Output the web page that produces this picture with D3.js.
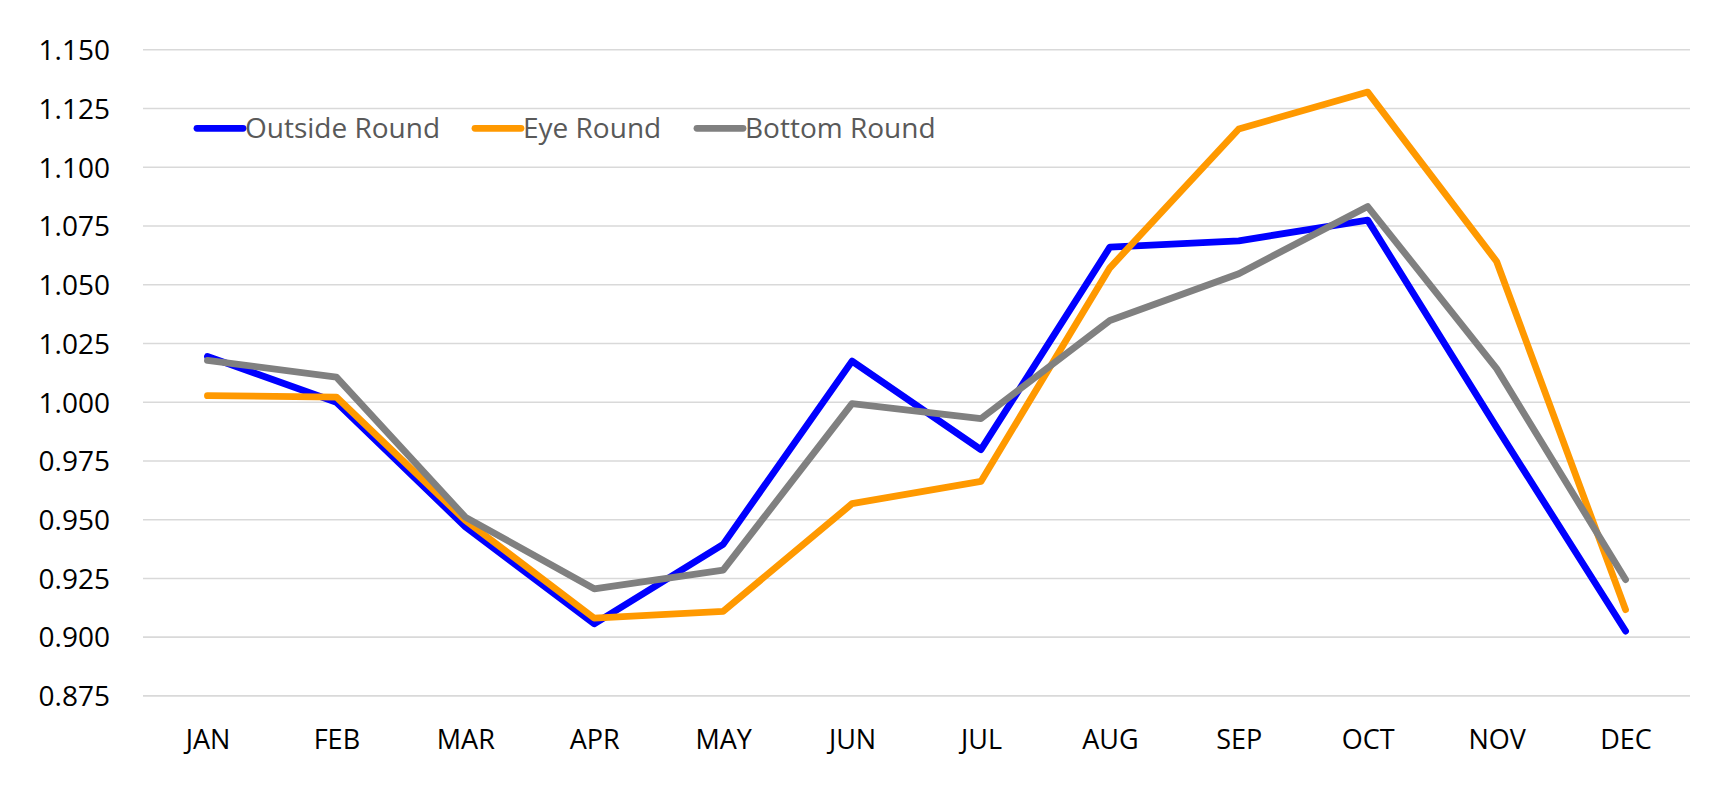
<!DOCTYPE html>
<html>
<head>
<meta charset="utf-8">
<script src="https://cdn.jsdelivr.net/npm/d3@7"></script>
<style>
  html, body { margin: 0; padding: 0; background: #fff; }
  svg { display: block; }
</style>
</head>
<body>
<svg id="chart" width="1732" height="792"></svg>
<script>
const months = ["JAN","FEB","MAR","APR","MAY","JUN","JUL","AUG","SEP","OCT","NOV","DEC"];
const outsideRound = [1.0195, 1.000, 0.947, 0.9057, 0.9395, 1.0175, 0.9798, 1.066, 1.0687, 1.0775, 0.9893, 0.9026];
const eyeRound     = [1.0028, 1.0022, 0.9497, 0.9081, 0.911, 0.9568, 0.9663, 1.0572, 1.1163, 1.132, 1.0599, 0.9117];
const bottomRound  = [1.0178, 1.0107, 0.9511, 0.9206, 0.9285, 0.9994, 0.993, 1.0348, 1.0547, 1.0833, 1.0143, 0.9245];
const yTicks = [0.875, 0.900, 0.925, 0.950, 0.975, 1.000, 1.025, 1.050, 1.075, 1.100, 1.125, 1.150];
const seriesNames = ["Outside Round", "Eye Round", "Bottom Round"];
const seriesColors = ["#0000FF", "#FF9900", "#808080"];

const series = [
  {name: seriesNames[0], color: seriesColors[0], values: outsideRound},
  {name: seriesNames[1], color: seriesColors[1], values: eyeRound},
  {name: seriesNames[2], color: seriesColors[2], values: bottomRound}
];

const svg = d3.select("#chart");
const font = "'Open Sans', 'Segoe UI', sans-serif";

const x = d3.scalePoint().domain(months).range([143, 1690]).padding(0.5);
const y = d3.scaleLinear().domain([0.875, 1.150]).range([695.9, 49.8]);

// gridlines
svg.append("g").selectAll("line").data(yTicks).join("line")
  .attr("x1", 143).attr("x2", 1690)
  .attr("y1", d => y(d)).attr("y2", d => y(d))
  .attr("stroke", "#d9d9d9").attr("stroke-width", 1.6);

// y axis
const yAxis = d3.axisLeft(y).tickValues(yTicks).tickFormat(d3.format(".3f")).tickSize(0).tickPadding(0);
const gy = svg.append("g").attr("transform", "translate(110,0)").call(yAxis);
gy.select(".domain").remove();
gy.selectAll("text").attr("font-family", font).attr("font-size", 28).attr("fill", "#000").attr("dy", "0.35em");

// x axis
const xAxis = d3.axisBottom(x).tickSize(0).tickPadding(0);
const gx = svg.append("g").attr("transform", "translate(0,749)").call(xAxis);
gx.select(".domain").remove();
gx.selectAll("text").attr("font-family", font).attr("font-size", 27).attr("fill", "#000").attr("dy", 0);

// lines
const line = d3.line().x((d, i) => x(months[i])).y(d => y(d));
svg.append("g").selectAll("path").data(series).join("path")
  .attr("d", d => line(d.values))
  .attr("fill", "none")
  .attr("stroke", d => d.color)
  .attr("stroke-width", 6.8)
  .attr("stroke-linejoin", "round")
  .attr("stroke-linecap", "round");

// legend
const legendX = [197, 475, 697];
const lg = svg.append("g").selectAll("g").data(series).join("g")
  .attr("transform", (d, i) => `translate(${legendX[i]},128.3)`);
lg.append("line").attr("x1", 0).attr("x2", 46).attr("y1", 0).attr("y2", 0)
  .attr("stroke", d => d.color).attr("stroke-width", 6.8).attr("stroke-linecap", "round");
lg.append("text").attr("x", 48).attr("y", 0).attr("dy", "0.36em")
  .attr("font-family", font).attr("font-size", 28).attr("fill", "#595959")
  .text(d => d.name);
</script>
</body>
</html>
